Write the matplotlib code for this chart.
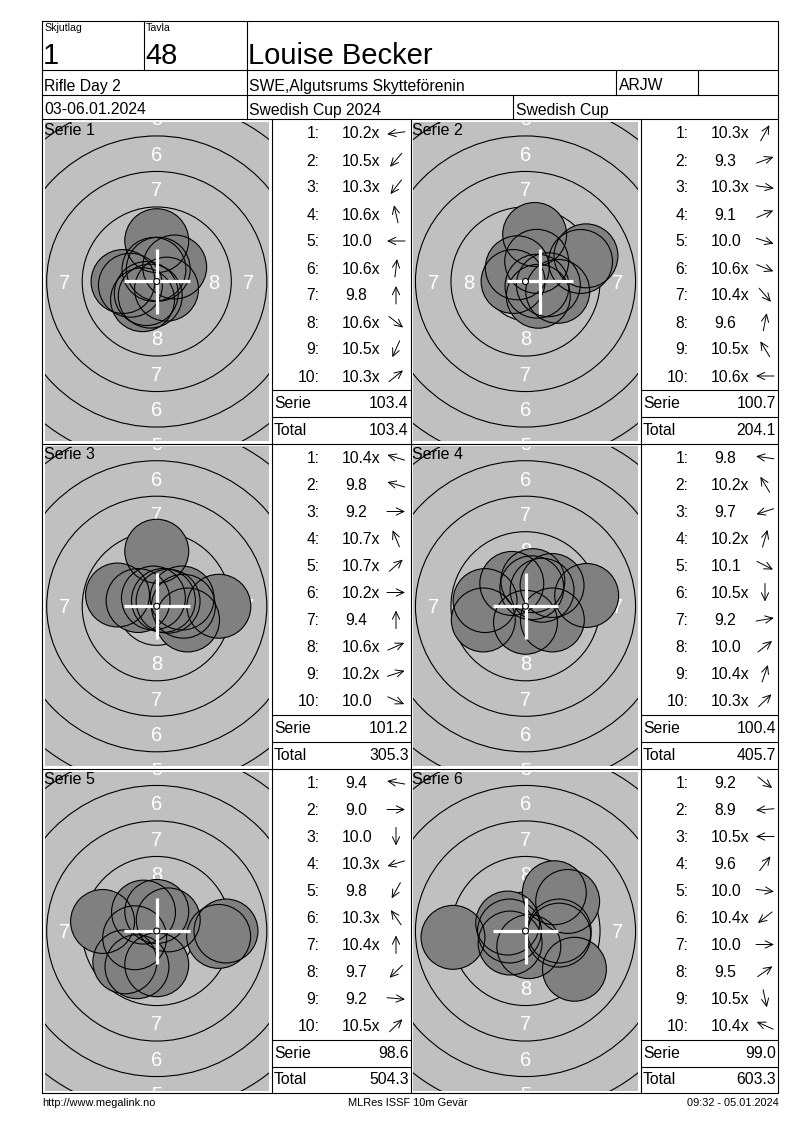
import numpy as np
import matplotlib
matplotlib.use("Agg")
import matplotlib.pyplot as plt
from matplotlib.patches import Circle

plt.rcParams['font.family'] = ['Liberation Sans', 'DejaVu Sans']

# header / footer text
shooting_group = "1"
target_no = "48"
shooter = "Louise Becker"
event = "Rifle Day 2"
club = "SWE,Algutsrums Skytteförenin"
shooter_class = "ARJW"
dates = "03-06.01.2024"
competition = "Swedish Cup 2024"
cup = "Swedish Cup"
footer_left = "http://www.megalink.no"
footer_mid = "MLRes ISSF 10m Gevär"
footer_right = "09:32 - 05.01.2024"

# shot scores (as printed) and arrow direction in degrees (0 = right, 90 = up)
s1_scores = ["10.2x", "10.5x", "10.3x", "10.6x", "10.0", "10.6x", "9.8", "10.6x", "10.5x", "10.3x"]
s1_dirs = [188, 229, 232, 103, 180, 83, 90, 322, 246, 39]
s2_scores = ["10.3x", "9.3", "10.3x", "9.1", "10.0", "10.6x", "10.4x", "9.6", "10.5x", "10.6x"]
s2_dirs = [61, 20, 352, 23, 343, 338, 311, 79, 121, 180]
s3_scores = ["10.4x", "9.8", "9.2", "10.7x", "10.7x", "10.2x", "9.4", "10.6x", "10.2x", "10.0"]
s3_dirs = [163, 164, 0, 112, 41, 0, 90, 24, 18, 336]
s4_scores = ["9.8", "10.2x", "9.7", "10.2x", "10.1", "10.5x", "9.2", "10.0", "10.4x", "10.3x"]
s4_dirs = [172, 121, 198, 74, 333, 270, 10, 38, 71, 44]
s5_scores = ["9.4", "9.0", "10.0", "10.3x", "9.8", "10.3x", "10.4x", "9.7", "9.2", "10.5x"]
s5_dirs = [170, 0, 270, 197, 241, 125, 90, 224, 355, 44]
s6_scores = ["9.2", "8.9", "10.5x", "9.6", "10.0", "10.4x", "10.0", "9.5", "10.5x", "10.4x"]
s6_dirs = [322, 185, 180, 53, 353, 218, 0, 35, 282, 156]

all_scores = [s1_scores, s2_scores, s3_scores, s4_scores, s5_scores, s6_scores]
all_dirs = [s1_dirs, s2_dirs, s3_dirs, s4_dirs, s5_dirs, s6_dirs]
cross_dx = [0, 1.05, 0, 0, 0, 0]  # white cross offset in mm

W, H = 800, 1130
SCALE = 14.2  # px per mm on the target pictures
PELLET_R = 2.25
FS = 11.3

fig = plt.figure(figsize=(W / 100, H / 100), dpi=100)
ax = fig.add_axes([0, 0, 1, 1])
ax.set_xlim(0, W)
ax.set_ylim(H, 0)
ax.axis('off')

lw = 0.8
L, R = 42, 778
TOP = 21
row_tops = [119, 443.5, 768.5, 1093]
col_x = [42, 272, 410.5, 641, 778]

# frame and header grid
ax.plot([L, R, R, L, L], [TOP, TOP, row_tops[-1], row_tops[-1], TOP], color='black', lw=lw)
for y in [70, 95, 119, row_tops[1], row_tops[2]]:
    ax.plot([L, R], [y, y], color='black', lw=lw)
for x in [144, 246.5]:
    ax.plot([x, x], [TOP, 70], color='black', lw=lw)
for x in [246.5, 616, 698]:
    ax.plot([x, x], [70, 95], color='black', lw=lw)
for x in [246.5, 513]:
    ax.plot([x, x], [95, 119], color='black', lw=lw)
for x in col_x[1:4]:
    ax.plot([x, x], [119, row_tops[-1]], color='black', lw=lw)

ax.text(44, 31, "Skjutlag", fontsize=7.6, va='baseline')
ax.text(146, 31, "Tavla", fontsize=7.6, va='baseline')
ax.text(43, 63.5, shooting_group, fontsize=21, va='baseline')
ax.text(145, 63.5, target_no, fontsize=21, va='baseline')
ax.text(248, 63.5, shooter, fontsize=21, va='baseline')
ax.text(44, 90.5, event, fontsize=FS, va='baseline')
ax.text(249, 90.5, club, fontsize=FS, va='baseline')
ax.text(619, 90.5, shooter_class, fontsize=FS, va='baseline')
ax.text(44, 114.5, dates, fontsize=FS, va='baseline')
ax.text(249, 114.5, competition, fontsize=FS, va='baseline')
ax.text(516, 114.5, cup, fontsize=FS, va='baseline')

narrow = ['Liberation Sans Narrow', 'Liberation Sans']
ax.text(42, 1106, footer_left, fontsize=7.9, family=narrow, va='baseline')
ax.text(408, 1106, footer_mid, fontsize=7.9, family=narrow, va='baseline', ha='center')
ax.text(779, 1106, footer_right, fontsize=7.9, family=narrow, va='baseline', ha='right')

total = 0.0
for k in range(6):
    col = k % 2
    row = k // 2
    cx0, cx1, tx1 = col_x[2 * col], col_x[2 * col + 1], col_x[2 * col + 2]
    ry0, ry1 = row_tops[row], row_tops[row + 1]

    # target picture
    gx0, gy0 = cx0 + 2.5, ry0 + 3
    gw, gh = cx1 - cx0 - 5.5, ry1 - ry0 - 5.5
    tax = fig.add_axes([gx0 / W, 1 - (gy0 + gh) / H, gw / W, gh / H])
    tax.set_xlim(-gw / 2 / SCALE, gw / 2 / SCALE)
    tax.set_ylim(-gh / 2 / SCALE, gh / 2 / SCALE)
    tax.set_facecolor('#c0c0c0')
    tax.set_xticks([])
    tax.set_yticks([])
    for sp in tax.spines.values():
        sp.set_visible(False)

    for n in range(1, 11):
        tax.add_patch(Circle((0, 0), 0.25 + 2.5 * (10 - n), fill=False, ec='black', lw=0.8, zorder=1))
    for n in range(1, 9):
        rm = 2.5 * (10 - n) - 1.0
        for dx, dy in [(0, 1), (0, -1), (1, 0), (-1, 0)]:
            tax.text(dx * rm, dy * rm - 0.5, str(n), color='white', fontsize=14.5,
                     ha='center', va='baseline', zorder=2, clip_on=True)

    vals = np.array([float(s.rstrip('x')) for s in all_scores[k]])
    ang = np.radians(all_dirs[k])
    dist = (10.9 - vals) * 2.5 + 0.125
    xs, ys = dist * np.cos(ang), dist * np.sin(ang)
    for x, y in zip(xs, ys):
        tax.add_patch(Circle((x, y), PELLET_R, fc='#808080', ec='none', zorder=3))
    for x, y in zip(xs, ys):
        tax.add_patch(Circle((x, y), PELLET_R, fill=False, ec='black', lw=0.8, zorder=4))

    cl = 2.32
    cxd = cross_dx[k]
    tax.plot([cxd - cl, cxd + cl], [0, 0], color='white', lw=2.3, solid_capstyle='butt', zorder=5)
    tax.plot([cxd, cxd], [-cl, cl], color='white', lw=2.3, solid_capstyle='butt', zorder=5)
    tax.add_patch(Circle((0, 0), 0.21, fc='white', ec='black', lw=0.8, zorder=6))
    tax.text(-0.003, 0.997, f"Serie {k + 1}", transform=tax.transAxes, ha='left', va='top',
             fontsize=11.5, zorder=7)

    # shot table
    x0, x1 = cx1, tx1
    for i, (s, d) in enumerate(zip(all_scores[k], all_dirs[k])):
        yb = ry0 + 19.5 + 27 * i
        yc = ry0 + 14 + 27 * i
        ax.text(x0 + 47.5, yb, f"{i + 1}:", ha='right', va='baseline', fontsize=FS)
        num = s.rstrip('x')
        ax.text(x0 + (69.5 if len(num) == 4 else 73), yb, s, ha='left', va='baseline', fontsize=FS)
        a = np.radians(d)
        acx, half = x0 + 124, 9
        tail = (acx - half * np.cos(a), yc + half * np.sin(a))
        head = (acx + half * np.cos(a), yc - half * np.sin(a))
        ax.annotate('', xy=head, xytext=tail,
                    arrowprops=dict(arrowstyle='->,head_length=0.55,head_width=0.26',
                                    lw=0.7, color='black', shrinkA=0, shrinkB=0))

    serie = vals.sum()
    total += serie
    ax.plot([x0, x1], [ry0 + 271, ry0 + 271], color='black', lw=lw)
    ax.plot([x0, x1], [ry0 + 298, ry0 + 298], color='black', lw=lw)
    ax.text(x0 + 2, ry0 + 289.5, "Serie", ha='left', va='baseline', fontsize=FS)
    ax.text(x1 - 2, ry0 + 289.5, f"{serie:.1f}", ha='right', va='baseline', fontsize=FS)
    ax.text(x0 + 2, ry0 + 316, "Total", ha='left', va='baseline', fontsize=FS)
    ax.text(x1 - 2, ry0 + 316, f"{total:.1f}", ha='right', va='baseline', fontsize=FS)

fig.savefig("out.png", dpi=100, facecolor='white')
